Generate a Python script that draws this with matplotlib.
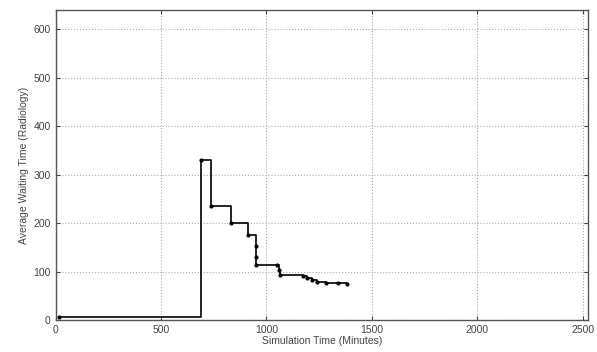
import matplotlib
matplotlib.use("Agg")
import matplotlib.pyplot as plt

plt.rcParams["font.family"] = ["Liberation Sans", "DejaVu Sans"]

# step data (minutes, average waiting time)
sim_time = [17, 691, 735, 832, 915, 950, 950, 950, 1048, 1058, 1066,
            1174, 1194, 1218, 1241, 1281, 1341, 1383]
avg_wait = [7, 330, 235, 200, 176, 152, 130, 113, 113, 103, 93,
            91, 87, 82, 79, 76, 76, 74]

x_ticks = [0, 500, 1000, 1500, 2000, 2500]
y_ticks = [0, 100, 200, 300, 400, 500, 600]

fig = plt.figure(figsize=(5.97, 3.52), dpi=100)
ax = fig.add_axes([0.093, 0.091, 0.892, 0.881])

ax.step(sim_time, avg_wait, where="post", color="black", linewidth=1.2,
        marker=".", markersize=4)

ax.set_xlim(0, 2525)
ax.set_ylim(0, 640)
ax.set_xticks(x_ticks)
ax.set_yticks(y_ticks)
ax.grid(True, linestyle=":", color="#aaaaaa", linewidth=0.8)
ax.tick_params(labelsize=7.5, colors="#444444", direction="in", length=3,
               top=True, right=True)
for s in ax.spines.values():
    s.set_color("#555555")
    s.set_linewidth(1.0)

ax.set_xlabel("Simulation Time (Minutes)", fontsize=7.5, color="#444444", labelpad=1)
ax.set_ylabel("Average Waiting Time (Radiology)", fontsize=7.5, color="#444444", labelpad=3)

fig.savefig("out.png", dpi=100)
